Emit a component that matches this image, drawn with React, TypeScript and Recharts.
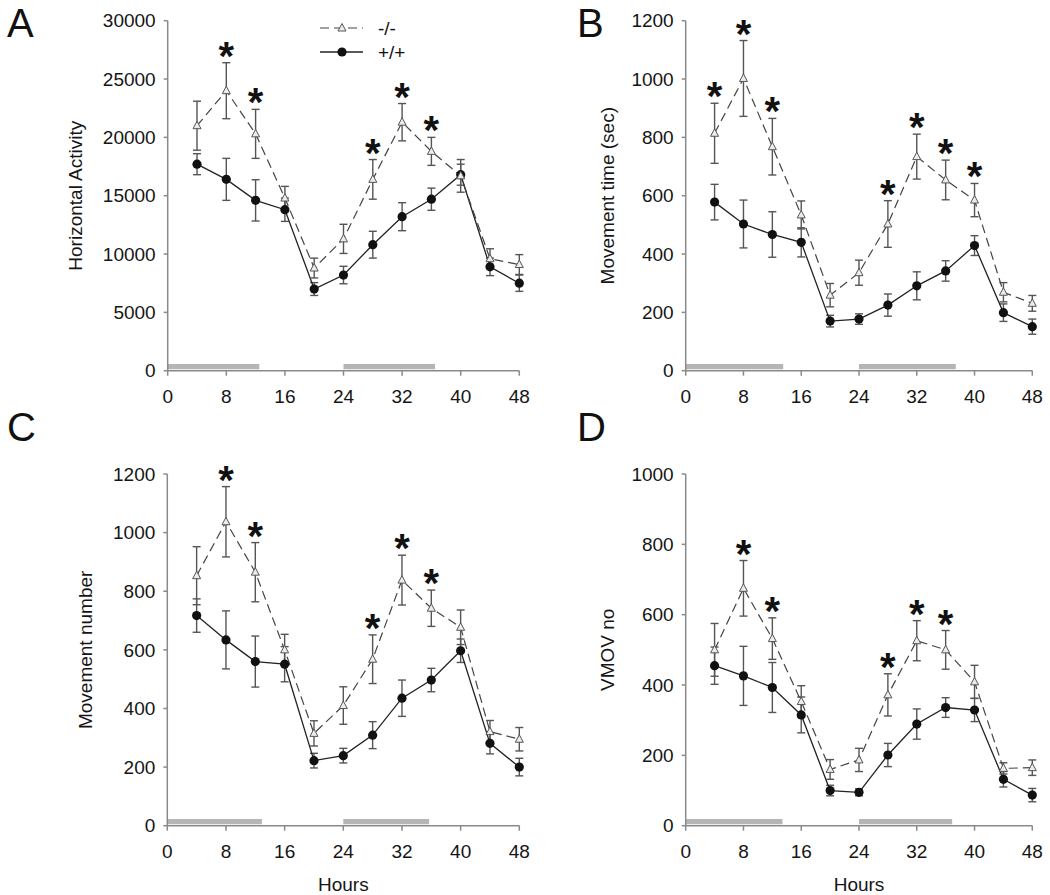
import { LineChart, Line, XAxis, YAxis, ErrorBar, ReferenceArea, Legend } from "recharts";

const FONT = "'Liberation Sans', Arial, sans-serif";

const HOURS = [4, 8, 12, 16, 20, 24, 28, 32, 36, 40, 44, 48];
const X_TICKS = [0, 8, 16, 24, 32, 40, 48];

// A - horizontal activity
const A_KO = [21000, 24000, 20300, 14800, 8800, 11300, 16400, 21300, 18800, 16700, 9600, 9100];
const A_KO_SE = [2100, 2400, 2100, 1000, 850, 1250, 1700, 1600, 1200, 1400, 850, 850];
const A_WT = [17700, 16400, 14600, 13800, 7000, 8200, 10800, 13200, 14700, 16800, 8900, 7500];
const A_WT_SE = [900, 1800, 1770, 1000, 550, 750, 1150, 1200, 950, 900, 750, 700];
const A_STARS = [8, 12, 28, 32, 36];
const A_DARK = [[0, 12.5], [24, 36.5]];
const A_Y_TICKS = [0, 5000, 10000, 15000, 20000, 25000, 30000];

// B - movement time
const B_KO = [814, 1002, 768, 534, 259, 336, 503, 734, 654, 585, 269, 231];
const B_KO_SE = [103, 130, 97, 48, 40, 43, 80, 77, 68, 57, 33, 27];
const B_WT = [578, 503, 467, 440, 170, 177, 225, 291, 342, 429, 199, 151];
const B_WT_SE = [61, 82, 78, 50, 20, 18, 38, 48, 35, 34, 30, 26];
const B_STARS = [4, 8, 12, 28, 32, 36, 40];
const B_DARK = [[0, 13.5], [24, 37.4]];
const B_Y_TICKS = [0, 200, 400, 600, 800, 1000, 1200];

// C - movement number
const C_KO = [853, 1037, 865, 600, 315, 410, 568, 838, 742, 677, 321, 295];
const C_KO_SE = [99, 120, 101, 53, 43, 64, 83, 85, 62, 59, 38, 40];
const C_WT = [717, 634, 560, 551, 222, 239, 309, 435, 497, 597, 281, 200];
const C_WT_SE = [57, 99, 87, 60, 25, 25, 46, 62, 40, 40, 36, 30];
const C_STARS = [8, 12, 28, 32, 36];
const C_DARK = [[0, 12.9], [24, 35.7]];
const C_Y_TICKS = [0, 200, 400, 600, 800, 1000, 1200];

// D - VMOV no
const D_KO = [500, 675, 532, 353, 160, 187, 372, 526, 500, 409, 163, 165];
const D_KO_SE = [75, 79, 59, 45, 28, 33, 60, 57, 55, 47, 16, 22];
const D_WT = [455, 426, 393, 315, 100, 95, 201, 289, 336, 329, 132, 87];
const D_WT_SE = [53, 84, 71, 51, 15, 10, 33, 43, 28, 33, 22, 19];
const D_STARS = [8, 12, 28, 32, 36];
const D_DARK = [[0, 13.4], [24, 36.9]];
const D_Y_TICKS = [0, 200, 400, 600, 800, 1000];

const rows = (ko: number[], koSe: number[], wt: number[], wtSe: number[], stars: number[]) =>
  HOURS.map((h, i) => ({
    h,
    ko: ko[i],
    koSe: koSe[i],
    wt: wt[i],
    wtSe: wtSe[i],
    star: stars.includes(h) ? ko[i] + koSe[i] : null,
  }));

const AXIS = "#8a8a8a";

const Triangle = (p: any) => {
  if (p.cx == null || p.cy == null) return <g key={p.index} />;
  const { cx, cy } = p;
  return (
    <polygon
      key={p.index}
      points={`${cx},${cy - 4.5} ${cx + 4},${cy + 3} ${cx - 4},${cy + 3}`}
      fill="#ececec"
      stroke="#555"
      strokeWidth={1}
    />
  );
};

const Circle = (p: any) => {
  if (p.cx == null || p.cy == null) return <g key={p.index} />;
  return <circle key={p.index} cx={p.cx} cy={p.cy} r={4.6} fill="#111" />;
};

// asterisk sits ~15px above the top of the -/- error bar
const Star = (p: any) => {
  if (p.cx == null || p.cy == null || p.payload.star == null) return <g key={p.index} />;
  return (
    <text key={p.index} x={p.cx} y={p.cy + 7} textAnchor="middle" fontSize={40} fontWeight="bold" fontFamily={FONT} fill="#111">
      *
    </text>
  );
};

const LegendBox = () => (
  <svg width={110} height={50} style={{ overflow: "visible" }}>
    <line x1={5} x2={48} y1={13} y2={13} stroke="#444" strokeWidth={1.2} strokeDasharray="9 5" />
    <polygon points="27,8.5 31,16 23,16" fill="#ececec" stroke="#555" strokeWidth={1} />
    <text x={63} y={19.5} fontSize={19} fontFamily={FONT} fill="#111">-/-</text>
    <line x1={5} x2={48} y1={37} y2={37} stroke="#222" strokeWidth={1.3} />
    <circle cx={27} cy={37} r={4.6} fill="#111" />
    <text x={63} y={43.5} fontSize={19} fontFamily={FONT} fill="#111">+/+</text>
  </svg>
);

type PanelProps = {
  left: number;
  top: number;
  width: number;
  height: number;
  margin: { top: number; right: number; bottom: number; left: number };
  yWidth: number;
  xHeight: number;
  yTicks: number[];
  yLabel: string;
  labelDx: number;
  data: any[];
  dark: number[][];
  legend?: boolean;
  hours?: boolean;
};

function Panel(props: PanelProps) {
  const ymax = props.yTicks[props.yTicks.length - 1];
  const tick = { fontSize: 19, fontFamily: FONT, fill: "#151515" };
  return (
    <div style={{ position: "absolute", left: props.left, top: props.top }}>
      <LineChart width={props.width} height={props.height} data={props.data} margin={props.margin}>
        {props.dark.map(([a, b], i) => (
          <ReferenceArea key={i} x1={a} x2={b} y1={ymax * 0.004} y2={ymax * 0.019} fill="#b5b5b5" fillOpacity={1} stroke="none" />
        ))}
        <XAxis
          type="number"
          dataKey="h"
          domain={[0, 48]}
          ticks={X_TICKS}
          height={props.xHeight}
          tick={tick}
          tickSize={5}
          tickMargin={14}
          stroke={AXIS}
          strokeWidth={1.5}
          label={
            props.hours
              ? { value: "Hours", position: "insideBottom", offset: 0, fontSize: 19, fontFamily: FONT, fill: "#151515" }
              : undefined
          }
        />
        <YAxis
          type="number"
          domain={[0, ymax]}
          ticks={props.yTicks}
          width={props.yWidth}
          tick={tick}
          tickSize={4}
          tickMargin={8}
          stroke={AXIS}
          strokeWidth={1.5}
          label={{ value: props.yLabel, angle: -90, position: "center", dx: props.labelDx, fontSize: 19, fontFamily: FONT, fill: "#151515" }}
        />
        <Line dataKey="wt" stroke="#222" strokeWidth={1.3} dot={Circle} activeDot={false} isAnimationActive={false}>
          <ErrorBar dataKey="wtSe" width={4} stroke="#555" strokeWidth={1.4} direction="y" />
        </Line>
        <Line dataKey="ko" stroke="#444" strokeWidth={1.2} strokeDasharray="9 5" dot={Triangle} activeDot={false} isAnimationActive={false}>
          <ErrorBar dataKey="koSe" width={4} stroke="#555" strokeWidth={1.4} direction="y" />
        </Line>
        <Line dataKey="star" stroke="none" dot={Star} activeDot={false} legendType="none" isAnimationActive={false} />
        {props.legend && (
          <Legend
            layout="vertical"
            align="center"
            verticalAlign="middle"
            content={LegendBox}
            wrapperStyle={{ left: 315, top: 15, width: 110, height: 50 }}
          />
        )}
      </LineChart>
    </div>
  );
}

const letter = (ch: string, left: number, top: number) => (
  <div style={{ position: "absolute", left, top, fontSize: 40, lineHeight: "40px", fontFamily: FONT, color: "#111" }}>{ch}</div>
);

export default function App() {
  const topMargin = (right: number) => ({ top: 20.7, right, bottom: 9.3, left: 0 });
  const botMargin = (right: number) => ({ top: 54, right, bottom: 4.3, left: 0 });
  return (
    <div style={{ position: "absolute", left: 0, top: 0, width: 1050, height: 895, background: "#fff", overflow: "hidden" }}>
      <Panel
        left={0}
        top={0}
        width={535}
        height={420}
        margin={topMargin(15.7)}
        yWidth={167.7}
        xHeight={40}
        yTicks={A_Y_TICKS}
        yLabel="Horizontal Activity"
        labelDx={-9}
        data={rows(A_KO, A_KO_SE, A_WT, A_WT_SE, A_STARS)}
        dark={A_DARK}
        legend
      />
      <Panel
        left={520}
        top={0}
        width={530}
        height={420}
        margin={topMargin(17.7)}
        yWidth={165.7}
        xHeight={40}
        yTicks={B_Y_TICKS}
        yLabel="Movement time (sec)"
        labelDx={4.5}
        data={rows(B_KO, B_KO_SE, B_WT, B_WT_SE, B_STARS)}
        dark={B_DARK}
      />
      <Panel
        left={0}
        top={420}
        width={535}
        height={475}
        margin={botMargin(15.7)}
        yWidth={167.3}
        xHeight={65}
        yTicks={C_Y_TICKS}
        yLabel="Movement number"
        labelDx={1.4}
        data={rows(C_KO, C_KO_SE, C_WT, C_WT_SE, C_STARS)}
        dark={C_DARK}
        hours
      />
      <Panel
        left={520}
        top={420}
        width={530}
        height={475}
        margin={botMargin(17.7)}
        yWidth={165.7}
        xHeight={65}
        yTicks={D_Y_TICKS}
        yLabel="VMOV no"
        labelDx={4.5}
        data={rows(D_KO, D_KO_SE, D_WT, D_WT_SE, D_STARS)}
        dark={D_DARK}
        hours
      />
      {letter("A", 7, 3)}
      {letter("B", 577, 3)}
      {letter("C", 7, 407)}
      {letter("D", 577, 407)}
    </div>
  );
}
